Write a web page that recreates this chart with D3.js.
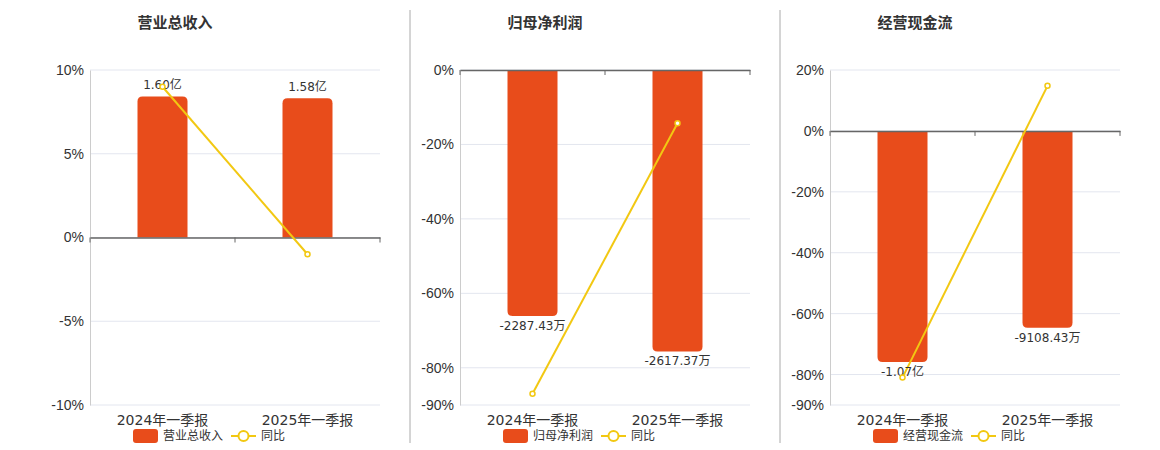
<!DOCTYPE html>
<html>
<head>
<meta charset="utf-8">
<script src="https://cdn.jsdelivr.net/npm/d3@7"></script>
<style>
  body { margin: 0; background: #fff; font-family: "DejaVu Sans", "Noto Sans CJK SC", sans-serif; }
</style>
</head>
<body>
<svg id="chart" width="1160" height="450"></svg>
<script>
// chart data
let categories = ["2024年一季报", "2025年一季报"];
let titles = ["营业总收入", "归母净利润", "经营现金流"];
let barValues = [[1.60, 1.58], [-2287.43, -2617.37], [-1.07, -0.910843]];
let barLabels = [["1.60亿", "1.58亿"], ["-2287.43万", "-2617.37万"], ["-1.07亿", "-9108.43万"]];
let yoyValues = [[9.0, -1.0], [-87.0, -14.3], [-81.0, 14.8]];
let pctDomains = [[-10, 10], [-90, 0], [-90, 20]];
let pctTicks = [[-10, -5, 0, 5, 10], [-90, -80, -60, -40, -20, 0], [-90, -80, -60, -40, -20, 0, 20]];
let barDomains = [[-1.9, 1.9], [-3115, 0], [-1.269, 0.2826]];

const barColor = "#E84C1B";
const lineColor = "#F2C812";
let svg = d3.select("#chart");

titles.forEach(function (title, i) {
  let x0 = 90 + i * 370;
  let g = svg.append("g");

  let x = d3.scaleBand().domain(categories).range([x0, x0 + 290]);
  let y = d3.scaleLinear().domain(pctDomains[i]).range([405, 70]);
  let yb = d3.scaleLinear().domain(barDomains[i]).range([405, 70]);

  g.append("text")
    .attr("x", x0 + 85)
    .attr("y", 28)
    .attr("text-anchor", "middle")
    .attr("font-size", 15)
    .attr("font-weight", "bold")
    .attr("fill", "#333")
    .text(title);

  // grid
  g.selectAll(".grid")
    .data(pctTicks[i])
    .enter()
    .append("line")
    .attr("x1", x0).attr("x2", x0 + 290)
    .attr("y1", d => y(d)).attr("y2", d => y(d))
    .attr("stroke", "#e3e6ef");

  let yAxis = g.append("g")
    .attr("transform", "translate(" + x0 + ",0)")
    .call(d3.axisLeft(y).tickValues(pctTicks[i]).tickFormat(d => d + "%").tickSize(0).tickPadding(6));
  yAxis.select(".domain").attr("stroke", "#ccc");
  yAxis.selectAll("text").attr("font-size", 14).attr("fill", "#333");

  // bars
  g.selectAll(".bar")
    .data(barValues[i])
    .enter()
    .append("path")
    .attr("fill", barColor)
    .attr("d", function (d, j) {
      let bx = x(categories[j]) + x.bandwidth() / 2 - 25, w = 50, r = 5;
      let y0 = yb(0), y1 = yb(d);
      if (d >= 0) {
        return "M" + bx + "," + y0 + "V" + (y1 + r) + "Q" + bx + "," + y1 + " " + (bx + r) + "," + y1 +
          "H" + (bx + w - r) + "Q" + (bx + w) + "," + y1 + " " + (bx + w) + "," + (y1 + r) + "V" + y0 + "Z";
      }
      return "M" + bx + "," + y0 + "V" + (y1 - r) + "Q" + bx + "," + y1 + " " + (bx + r) + "," + y1 +
        "H" + (bx + w - r) + "Q" + (bx + w) + "," + y1 + " " + (bx + w) + "," + (y1 - r) + "V" + y0 + "Z";
    });

  // zero axis
  let xAxis = g.append("g")
    .attr("transform", "translate(0," + y(0) + ")")
    .call(d3.axisBottom(x).tickValues([]).tickSizeOuter(0));
  xAxis.select(".domain").attr("stroke", "#666").attr("stroke-width", 1.5);
  [x0, x0 + 145, x0 + 290].forEach(function (tx) {
    g.append("line").attr("x1", tx).attr("x2", tx).attr("y1", y(0)).attr("y2", y(0) + 5).attr("stroke", "#666");
  });

  g.selectAll(".cat")
    .data(categories)
    .enter()
    .append("text")
    .attr("x", d => x(d) + x.bandwidth() / 2)
    .attr("y", 425)
    .attr("text-anchor", "middle")
    .attr("font-size", 14)
    .attr("fill", "#333")
    .text(d => d);

  // line
  let line = d3.line()
    .x((d, j) => x(categories[j]) + x.bandwidth() / 2)
    .y(d => y(d));
  g.append("path")
    .attr("d", line(yoyValues[i]))
    .attr("fill", "none")
    .attr("stroke", lineColor)
    .attr("stroke-width", 2);

  // bar labels
  g.selectAll(".lbl")
    .data(barValues[i])
    .enter()
    .append("text")
    .attr("x", (d, j) => x(categories[j]) + x.bandwidth() / 2)
    .attr("y", d => d >= 0 ? yb(d) - 7 : yb(d) + 14)
    .attr("text-anchor", "middle")
    .attr("font-size", 12)
    .attr("fill", "#333")
    .text((d, j) => barLabels[i][j]);

  g.selectAll(".pt")
    .data(yoyValues[i])
    .enter()
    .append("circle")
    .attr("cx", (d, j) => x(categories[j]) + x.bandwidth() / 2)
    .attr("cy", d => y(d))
    .attr("r", 2.5)
    .attr("fill", "#fff")
    .attr("stroke", lineColor)
    .attr("stroke-width", 1.5);

  // legend
  let lx = x0 + 43;
  g.append("rect").attr("x", lx).attr("y", 429).attr("width", 25).attr("height", 14).attr("rx", 3).attr("fill", barColor);
  let nameW = title.length * 12;
  g.append("text").attr("x", lx + 30).attr("y", 440).attr("font-size", 12).attr("fill", "#333").text(title);
  let lx2 = lx + 30 + nameW + 8;
  g.append("line").attr("x1", lx2).attr("x2", lx2 + 25).attr("y1", 436).attr("y2", 436).attr("stroke", lineColor).attr("stroke-width", 2);
  g.append("circle").attr("cx", lx2 + 12.5).attr("cy", 436).attr("r", 5).attr("fill", "#fff").attr("stroke", lineColor).attr("stroke-width", 2);
  g.append("text").attr("x", lx2 + 30).attr("y", 440).attr("font-size", 12).attr("fill", "#333").text("同比");

  if (i > 0) {
    svg.append("line").attr("x1", x0 - 50).attr("x2", x0 - 50).attr("y1", 10).attr("y2", 443).attr("stroke", "#aaa");
  }
});
</script>
</body>
</html>
